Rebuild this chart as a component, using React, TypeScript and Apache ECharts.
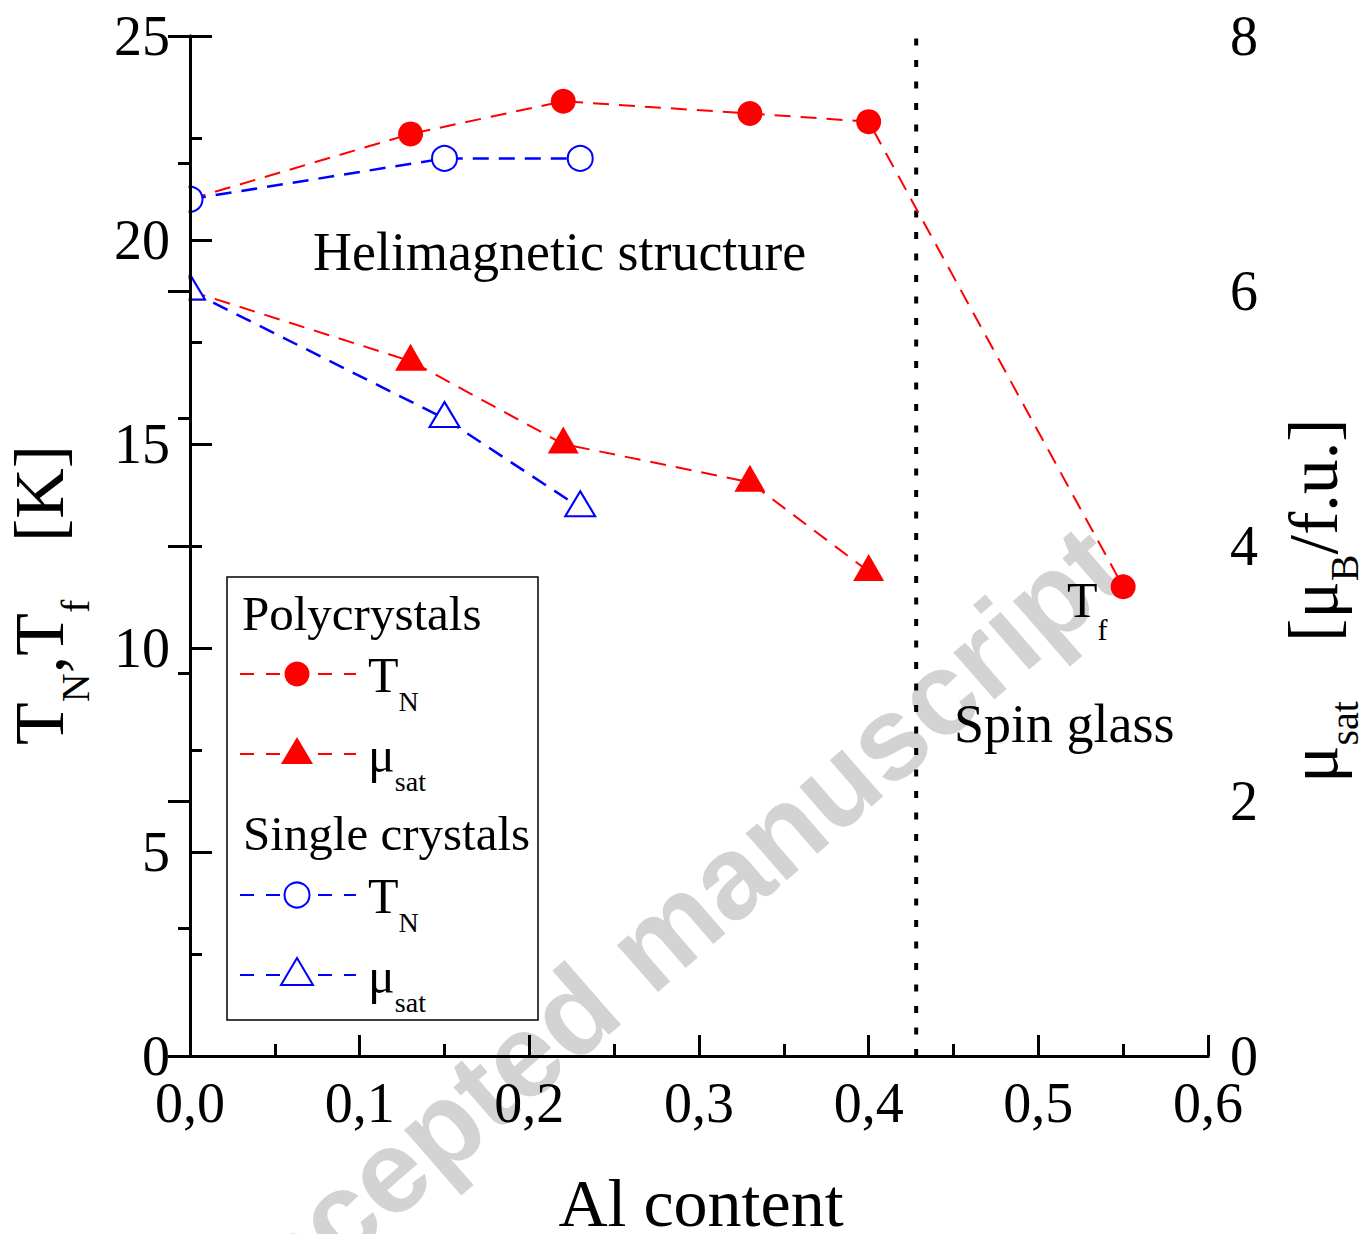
import React, { useEffect, useRef } from 'react';
import * as echarts from 'echarts';

// ---- data ----
const xPolyTN = [0, 0.13, 0.22, 0.33, 0.4, 0.55];
const tnPoly = [21.0, 22.6, 23.4, 23.1, 22.9, 11.5];
const xPolyMu = [0, 0.13, 0.22, 0.33, 0.4];
const muPoly = [6.0, 5.45, 4.8, 4.5, 3.8];
const xSingle = [0, 0.15, 0.23];
const tnSingle = [21.0, 22.0, 22.0];
const muSingle = [6.0, 5.0, 4.3];
const spinGlassBoundary = [0.428];

const xTickLabels = ['0,0', '0,1', '0,2', '0,3', '0,4', '0,5', '0,6'];
const leftTickLabels = ['0', '5', '10', '15', '20', '25'];
const rightTickLabels = ['0', '2', '4', '6', '8'];

const RED = '#ff0000';
const BLUE = '#0000ff';
const SERIF = '"Liberation Serif", "Times New Roman", serif';
const SANS = '"Liberation Sans", Arial, sans-serif';

let measureCtx: CanvasRenderingContext2D | null = null;
function tw(text: string, size: number, family = SERIF, weight = 'normal') {
  if (!measureCtx) measureCtx = document.createElement('canvas').getContext('2d');
  if (!measureCtx) return text.length * size * 0.5;
  measureCtx.font = `${weight} ${size}px ${family}`;
  return measureCtx.measureText(text).width;
}

// text token positioned by its alphabetic baseline
function tok(text: string, x: number, baseline: number, size: number, z = 20, fill = '#000') {
  return {
    type: 'text',
    x,
    y: baseline - 0.34 * size,
    z,
    silent: true,
    style: {
      text,
      fontSize: size,
      fontFamily: SERIF,
      fill,
      align: 'left',
      textAlign: 'left',
      verticalAlign: 'middle',
      textVerticalAlign: 'middle',
    },
  };
}

function pairs(xs: number[], ys: number[]) {
  return xs.map((x, i) => [x, ys[i]]);
}

function buildGraphics() {
  const g: any[] = [];

  // watermark
  g.push({
    type: 'text',
    x: 652,
    y: 943,
    rotation: (41 * Math.PI) / 180,
    z: 1,
    silent: true,
    style: {
      text: 'Accepted manuscript',
      fontSize: 118,
      fontWeight: 'bold',
      fontFamily: SANS,
      fill: '#d3d3d3',
      align: 'center',
      textAlign: 'center',
      verticalAlign: 'middle',
      textVerticalAlign: 'middle',
    },
  });

  // clip strip left of the y axis (markers at x = 0 are cut by the axis)
  g.push({
    type: 'rect',
    z: 5,
    silent: true,
    shape: { x: 173, y: 30, width: 15.5, height: 1032 },
    style: { fill: '#fff' },
  });

  // annotations
  g.push(tok('Helimagnetic structure', 313, 270, 54));
  g.push(tok('Spin glass', 954, 742, 54));
  g.push(tok('T', 1067, 617, 50));
  g.push(tok('f', 1067 + tw('T', 50), 640, 30));

  // left axis title (rotated)
  {
    const M = 70;
    const S = 40;
    const off = 26;
    const ch: any[] = [];
    let lx = 0;
    ch.push(tok('T', lx, 0, M));
    lx += tw('T', M);
    ch.push(tok('N', lx, off, S));
    lx += tw('N', S);
    ch.push(tok(',', lx, 0, M));
    lx += tw(',', M);
    ch.push(tok('T', lx, 0, M));
    lx += tw('T', M);
    ch.push(tok('f', lx, off, S));
    ch.push(tok('[K]', 203, 0, M));
    g.push({ type: 'group', x: 63, y: 745, rotation: Math.PI / 2, z: 20, children: ch });
  }

  // right axis title (rotated)
  {
    const M = 70;
    const S = 40;
    const off = 21;
    const ch: any[] = [];
    let lx = 0;
    ch.push(tok('\u03bc', lx, 0, M));
    lx += tw('\u03bc', M);
    ch.push(tok('sat', lx, off, S));
    lx = 141;
    ch.push(tok('[\u03bc', lx, 0, M));
    lx += tw('[\u03bc', M);
    ch.push(tok('B', lx, off, S));
    lx += tw('B', S);
    ch.push(tok('/f.u.]', lx, 0, M));
    g.push({ type: 'group', x: 1337, y: 783, rotation: Math.PI / 2, z: 20, children: ch });
  }

  // x axis title
  g.push(tok('Al content', 701 - tw('Al content', 68) / 2, 1226, 68));

  // legend box
  g.push({
    type: 'rect',
    z: 20,
    silent: true,
    shape: { x: 227, y: 577, width: 311, height: 443 },
    style: { fill: 'rgba(0,0,0,0)', stroke: '#000', lineWidth: 1.5 },
  });
  const LF = 49;
  const TF = 50;
  const LS = 28;
  const mx = 297;
  const textX = 368;
  g.push(tok('Polycrystals', 242, 630, LF));
  g.push(tok('Single crystals', 243, 850, LF));

  const legendRow = (y: number, color: string, marker: string, filled: boolean, label: string, sub: string) => {
    g.push({
      type: 'line',
      z: 20,
      silent: true,
      shape: { x1: 240, y1: y, x2: 356, y2: y },
      style: { stroke: color, lineWidth: 2, lineDash: [14, 12] },
    });
    if (marker === 'circle') {
      g.push({
        type: 'circle',
        z: 21,
        silent: true,
        shape: { cx: mx, cy: y, r: 12.5 },
        style: filled ? { fill: color } : { fill: '#fff', stroke: color, lineWidth: 2 },
      });
    } else {
      g.push({
        type: 'polygon',
        z: 21,
        silent: true,
        shape: { points: [[mx - 16, y + 10], [mx + 16, y + 10], [mx, y - 17]] },
        style: filled ? { fill: color } : { fill: '#fff', stroke: color, lineWidth: 2 },
      });
    }
    const mainBase = y + 18;
    g.push(tok(label, textX, mainBase, TF));
    g.push(tok(sub, textX + tw(label, TF), mainBase + 19, LS));
  };
  legendRow(674, RED, 'circle', true, 'T', 'N');
  legendRow(754, RED, 'triangle', true, '\u03bc', 'sat');
  legendRow(895, BLUE, 'circle', false, 'T', 'N');
  legendRow(975, BLUE, 'triangle', false, '\u03bc', 'sat');

  return g;
}

export default function App() {
  const ref = useRef<HTMLDivElement>(null);

  useEffect(() => {
    document.body.style.margin = '0';
    document.body.style.overflow = 'hidden';
    if (!ref.current) return;
    const chart = echarts.init(ref.current, null, { renderer: 'svg' });

    const axisLine = { show: true, lineStyle: { color: '#000', width: 3 } };
    const labelStyle = { color: '#000', fontSize: 56, fontFamily: SERIF };

    const option: any = {
      animation: false,
      backgroundColor: '#fff',
      grid: { left: 190, top: 36, right: 164, bottom: 178, containLabel: false },
      xAxis: [
        {
          type: 'value',
          position: 'bottom',
          min: 0,
          max: 0.6,
          interval: 0.1,
          z: 10,
          axisLine,
          axisTick: { show: true, inside: true, length: 21, lineStyle: { color: '#000', width: 3 } },
          minorTick: { show: true, splitNumber: 2, length: 12, lineStyle: { color: '#000', width: 3 } },
          splitLine: { show: false },
          minorSplitLine: { show: false },
          axisLabel: {
            ...labelStyle,
            margin: 19,
            formatter: (v: number) => xTickLabels[Math.round(v / 0.1)] ?? '',
          },
        },
        {
          type: 'value',
          position: 'top',
          min: 0,
          max: 0.6,
          z: 10,
          axisLine,
          axisTick: { show: false },
          axisLabel: { show: false },
          splitLine: { show: false },
        },
      ],
      yAxis: [
        {
          type: 'value',
          position: 'left',
          min: 0,
          max: 25,
          interval: 5,
          z: 10,
          axisLine,
          axisTick: { show: true, inside: true, length: 22, lineStyle: { color: '#000', width: 3 } },
          minorTick: { show: true, splitNumber: 2, length: 12, lineStyle: { color: '#000', width: 3 } },
          splitLine: { show: false },
          minorSplitLine: { show: false },
          axisLabel: {
            ...labelStyle,
            margin: 20,
            formatter: (v: number) => leftTickLabels[Math.round(v / 5)] ?? '',
          },
        },
        {
          type: 'value',
          position: 'right',
          min: 0,
          max: 8,
          interval: 2,
          z: 10,
          alignTicks: false,
          axisLine,
          axisTick: { show: true, inside: true, length: 22, lineStyle: { color: '#000', width: 3 } },
          minorTick: { show: true, splitNumber: 2, length: 12, lineStyle: { color: '#000', width: 3 } },
          splitLine: { show: false },
          minorSplitLine: { show: false },
          axisLabel: {
            ...labelStyle,
            margin: 22,
            formatter: (v: number) => rightTickLabels[Math.round(v / 2)] ?? '',
          },
        },
      ],
      graphic: { elements: buildGraphics() },
      series: [
        {
          name: 'boundary',
          type: 'line',
          xAxisIndex: 0,
          yAxisIndex: 0,
          data: [
            [spinGlassBoundary[0], 0],
            [spinGlassBoundary[0], 25],
          ],
          symbol: 'none',
          silent: true,
          z: 2,
          lineStyle: { color: '#000', width: 4, type: [7, 14.5], cap: 'butt' },
        },
        {
          name: 'TN poly',
          type: 'line',
          xAxisIndex: 0,
          yAxisIndex: 0,
          data: pairs(xPolyTN, tnPoly),
          symbol: 'circle',
          symbolSize: 25,
          itemStyle: { color: RED },
          lineStyle: { color: RED, width: 2, type: [16, 10] },
          z: 3,
        },
        {
          name: 'mu poly',
          type: 'line',
          xAxisIndex: 0,
          yAxisIndex: 1,
          data: pairs(xPolyMu, muPoly),
          symbol: 'triangle',
          symbolSize: [31, 27],
          symbolOffset: [0, -4],
          itemStyle: { color: RED },
          lineStyle: { color: RED, width: 2, type: [16, 10] },
          z: 3,
        },
        {
          name: 'TN single',
          type: 'line',
          xAxisIndex: 0,
          yAxisIndex: 0,
          data: pairs(xSingle, tnSingle),
          symbol: 'emptyCircle',
          symbolSize: 25,
          itemStyle: { color: BLUE, borderColor: BLUE, borderWidth: 2 },
          lineStyle: { color: BLUE, width: 2.5, type: [16, 10] },
          z: 4,
        },
        {
          name: 'mu single',
          type: 'line',
          xAxisIndex: 0,
          yAxisIndex: 1,
          data: pairs(xSingle, muSingle),
          symbol: 'emptyTriangle',
          symbolSize: [30, 25],
          symbolOffset: [0, -4],
          itemStyle: { color: BLUE, borderColor: BLUE, borderWidth: 2 },
          lineStyle: { color: BLUE, width: 2.5, type: [16, 10] },
          z: 4,
        },
      ],
    };

    chart.setOption(option);
    return () => chart.dispose();
  }, []);

  return (
    <div
      ref={ref}
      style={{ position: 'absolute', left: 0, top: 0, width: 1372, height: 1234, background: '#fff' }}
    />
  );
}
